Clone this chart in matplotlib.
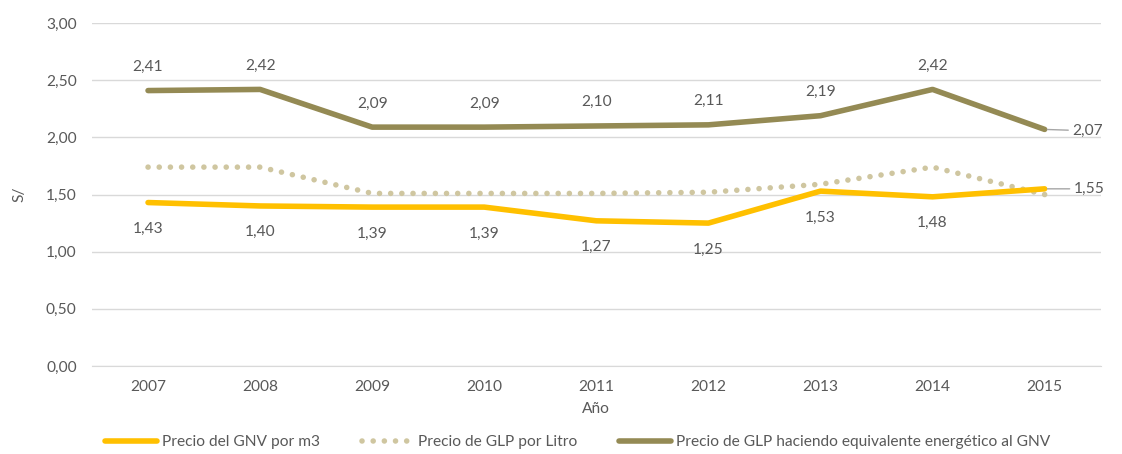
import matplotlib
matplotlib.use('Agg')
import matplotlib.pyplot as plt
from matplotlib.lines import Line2D

plt.rcParams['font.family'] = ['Lato', 'DejaVu Sans']

years = ['2007', '2008', '2009', '2010', '2011', '2012', '2013', '2014', '2015']
gnv_m3 = [1.43, 1.40, 1.39, 1.39, 1.27, 1.25, 1.53, 1.48, 1.55]
glp_litro = [1.74, 1.74, 1.51, 1.51, 1.51, 1.52, 1.59, 1.74, 1.50]
glp_equiv = [2.41, 2.42, 2.09, 2.09, 2.10, 2.11, 2.19, 2.42, 2.07]

names = ['Precio del GNV por m3', 'Precio de GLP por Litro',
         'Precio de GLP haciendo equivalente energético al GNV']

c_gnv = '#FFC000'
c_lit = '#CFC6A0'
c_eq = '#948A54'
txt = '#595959'
fs = 11.2

def fmt(v):
    return ('%.2f' % v).replace('.', ',')

fig = plt.figure(figsize=(11.22, 4.54), dpi=100)
ax = fig.add_axes([0.082, 0.194, 0.899, 0.755])

x = list(range(len(years)))
ax.plot(x, gnv_m3, color=c_gnv, lw=4, solid_capstyle='round', zorder=3)
ax.plot(x, glp_litro, color=c_lit, lw=4, linestyle=(0, (0.01, 2.0)),
        dash_capstyle='round', zorder=2)
ax.plot(x, glp_equiv, color=c_eq, lw=4, solid_capstyle='round', zorder=3)

ax.set_xlim(-0.5, len(years) - 0.5)
ax.set_ylim(0, 3)
ax.set_yticks([0, 0.5, 1, 1.5, 2, 2.5, 3])
ax.set_yticklabels([fmt(v) for v in [0, 0.5, 1, 1.5, 2, 2.5, 3]])
ax.set_xticks(x)
ax.set_xticklabels(years)
ax.tick_params(length=0, labelsize=fs, colors=txt)
ax.tick_params(axis='x', pad=10)
ax.tick_params(axis='y', pad=11)
ax.grid(axis='y', color='#D9D9D9', lw=1)
ax.set_axisbelow(True)
for s in ['top', 'right', 'left']:
    ax.spines[s].set_visible(False)
ax.spines['bottom'].set_color('#D9D9D9')

ax.set_xlabel('Año', fontsize=fs, color=txt, labelpad=6)
ax.set_ylabel('S/', fontsize=fs, color=txt, labelpad=14)

# data labels
for i in range(len(years) - 1):
    ax.annotate(fmt(gnv_m3[i]), (i, gnv_m3[i]), xytext=(0, -19),
                textcoords='offset points', ha='center', va='center',
                fontsize=fs, color=txt)
    ax.annotate(fmt(glp_equiv[i]), (i, glp_equiv[i]), xytext=(0, 17),
                textcoords='offset points', ha='center', va='center',
                fontsize=fs, color=txt)
last = len(years) - 1
ax.annotate(fmt(glp_equiv[last]), (last, glp_equiv[last]), xytext=(20, -1),
            textcoords='offset points', ha='left', va='center',
            fontsize=fs, color=txt,
            arrowprops=dict(arrowstyle='-', color='#A6A6A6', lw=1,
                            shrinkA=1, shrinkB=2))
ax.annotate(fmt(gnv_m3[last]), (last, gnv_m3[last]), xytext=(21, 0),
            textcoords='offset points', ha='left', va='center',
            fontsize=fs, color=txt,
            arrowprops=dict(arrowstyle='-', color='#A6A6A6', lw=1,
                            shrinkA=1, shrinkB=2))

handles = [Line2D([], [], color=c_gnv, lw=4, solid_capstyle='round'),
           Line2D([], [], color=c_lit, lw=4, linestyle=(0, (0.01, 2.0)),
                  dash_capstyle='round'),
           Line2D([], [], color=c_eq, lw=4, solid_capstyle='round')]
leg = fig.legend(handles, names, loc='center left', bbox_to_anchor=(0.087, 0.026),
                 ncol=3, frameon=False, fontsize=fs, handlelength=3.3,
                 handletextpad=0.32, columnspacing=2.7, borderpad=0)
for t in leg.get_texts():
    t.set_color(txt)

fig.savefig('out.png', dpi=100)
